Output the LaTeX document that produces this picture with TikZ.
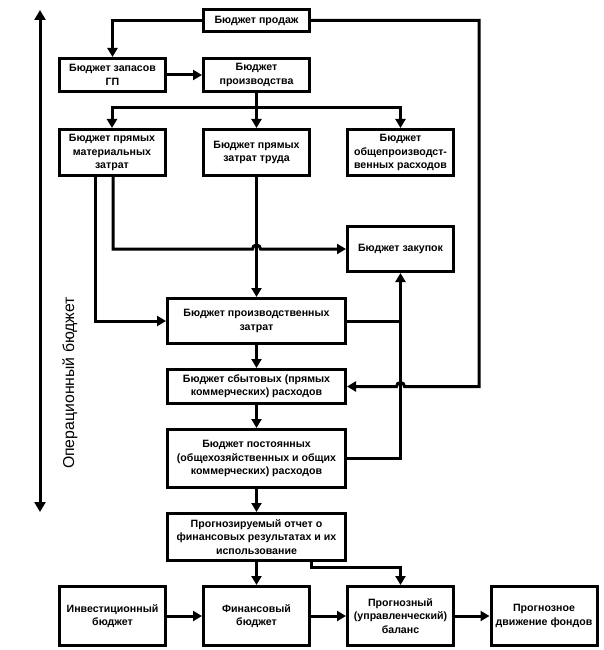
\documentclass[tikz,border=0pt]{standalone}
\usepackage{fontspec}
\setmainfont{Liberation Sans}
\usetikzlibrary{arrows.meta,calc}
\begin{document}
\begin{tikzpicture}[x=1pt,y=-1pt,
  box/.style={draw=black,line width=3pt,fill=white,align=center,inner sep=1pt,
    font=\bfseries\fontsize{10.6}{13.3}\selectfont},
  line/.style={line width=3pt},
  arr/.style={line width=3pt,-{Triangle[length=9pt,width=10pt]}},
  darr/.style={line width=3pt,{Triangle[length=10pt,width=11pt]}-{Triangle[length=10pt,width=11pt]}}]
\useasboundingbox (0,0) rectangle (603,650);
\fill[white] (0,0) rectangle (603,650);

\node[box,minimum width=106pt,minimum height=22pt] (prodazh) at (256.5,20.5) {Бюджет продаж};
\node[box,minimum width=106pt,minimum height=33pt] (zapGP) at (112.5,75) {Бюджет запасов\\ГП};
\node[box,minimum width=106pt,minimum height=33pt] (proizv) at (256.5,75) {Бюджет\\производства};
\node[box,minimum width=106pt,minimum height=46pt] (mat) at (112,152.5) {Бюджет прямых\\материальных\\затрат};
\node[box,minimum width=106pt,minimum height=46pt] (trud) at (256.5,152.5) {Бюджет прямых\\затрат труда};
\node[box,minimum width=106pt,minimum height=46pt] (obsh) at (400.5,152.5) {Бюджет\\общепроизводст-\\венных расходов};
\node[box,minimum width=106pt,minimum height=45pt] (zakup) at (400.5,249) {Бюджет закупок};
\node[box,minimum width=178pt,minimum height=45pt] (pzatr) at (256.5,321) {Бюджет производственных\\затрат};
\node[box,minimum width=178pt,minimum height=34pt] (sbyt) at (256.5,386.5) {Бюджет сбытовых (прямых\\коммерческих) расходов};
\node[box,minimum width=178pt,minimum height=58pt] (post) at (256.5,458.5) {Бюджет постоянных\\(общехозяйственных и общих\\коммерческих) расходов};
\node[box,minimum width=178pt,minimum height=47pt] (otchet) at (256.5,537) {Прогнозируемый отчет о\\финансовых результатах и их\\использование};
\node[box,minimum width=106pt,minimum height=59pt] (invest) at (112.5,616) {Инвестиционный\\бюджет};
\node[box,minimum width=106pt,minimum height=59pt] (fin) at (256.5,616) {Финансовый\\бюджет};
\node[box,minimum width=106pt,minimum height=59pt] (balans) at (400.5,616) {Прогнозный\\(управленческий)\\баланс};
\node[box,minimum width=106pt,minimum height=59pt] (dvizh) at (544,616) {Прогнозное\\движение фондов};

% left operational budget arrow
\coordinate (opT) at (40,10);
\coordinate (opB) at (40,512);
\draw[darr] (opB) -- (opT);
\node[rotate=90,font=\fontsize{15.8}{16}\selectfont] (oplabel) at (70,383) {Операционный бюджет};

% sales connections
\draw[arr] (prodazh.west) -| (zapGP.north);
\coordinate (bR) at (479,386.5);
\draw[arr] (prodazh.east) -| (bR) -- ($(zakup.south |- sbyt.east)+(4,0)$) arc[start angle=0,end angle=180,radius=4pt] -- (sbyt.east);

\draw[arr] (zapGP.east) -- (proizv.west);

% production branch
\coordinate (br) at (256.5,108);
\draw[line] (proizv.south) -- (br);
\draw[arr] (br) -| (mat.north);
\draw[arr] (br) -- (trud.north);
\draw[arr] (br) -| (obsh.north);

% material costs
\draw[arr] ([xshift=-17pt]mat.south) |- (pzatr.west);
\draw[arr] ([xshift=1pt]mat.south) |- ($(trud.south |- zakup.west)+(-4,0)$) arc[start angle=180,end angle=0,radius=4pt] -- (zakup.west);

\draw[arr] (trud.south) -- (pzatr.north);
\draw[line] (pzatr.east) -- (zakup.south |- pzatr.east);
\draw[arr] (post.east) -| (zakup.south);

\draw[arr] (pzatr.south) -- (sbyt.north);
\draw[arr] (sbyt.south) -- (post.north);
\draw[arr] (post.south) -- (otchet.north);
\draw[arr] (otchet.south) -- (fin.north);
\draw[arr] ($(otchet.south)+(54.5,0)$) -- ++(0,5) -| (balans.north);

\draw[arr] (invest.east) -- (fin.west);
\draw[arr] (fin.east) -- (balans.west);
\draw[arr] (balans.east) -- (dvizh.west);
\end{tikzpicture}
\end{document}
